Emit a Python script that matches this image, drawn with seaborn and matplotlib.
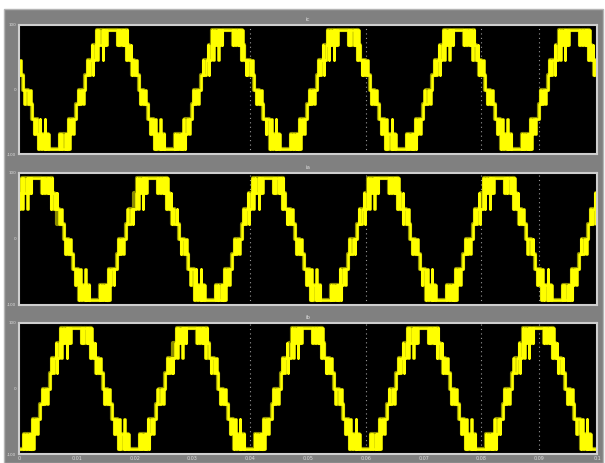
import numpy as np
import pandas as pd
import matplotlib
matplotlib.use("Agg")
import matplotlib.pyplot as plt
import seaborn as sns
from matplotlib.patches import Rectangle

sns.set_style("dark")

# ---------------- data ----------------
panel_titles = ["ic", "ia", "ib"]
first_peak_times = [0.0161, 0.0031, 0.0099]   # s, first positive peak in each panel
period = 0.02                                  # s (5 cycles in 0.1 s)
level_values = [-92, -69, -46, -23, 0, 23, 46, 69, 92]  # 9-level staircase
# half-width (fraction of period, around the positive peak) where level >= k, k = 4..-3
step_half_widths = [0.09, 0.145, 0.19, 0.23, 0.27, 0.31, 0.355, 0.41]
# how much PWM chatter each of those steps shows (0 none, 1 light, 2 heavy)
step_chatter = [2, 1, 1, 0, 1, 0, 1, 2]
# chatter pulses: (start, end, excursion in levels, minimum step_chatter), units of the window
chatter_window = 0.05                          # fraction of period
chatter_pulses = [(-0.55, -0.4, 1, 1), (0.35, 0.5, 1, 1),
                  (-0.95, -0.85, 1, 2), (0.15, 0.22, 2, 2), (0.75, 0.85, 1, 2)]
# darker chatter bursts (the olive blocks of the scope trace)
burst_pulses = [(-0.85, -0.45, 1, 2), (0.4, 0.75, 1, 2), (-0.35, -0.1, 1, 1)]
x_ticks = [0, 0.01, 0.02, 0.03, 0.04, 0.05, 0.06, 0.07, 0.08, 0.09, 0.1]
x_tick_labels = ["0", "0.01", "0.02", "0.03", "0.04", "0.05", "0.06", "0.07", "0.08", "0.09", "0.1"]
grid_marks = [0.04, 0.06, 0.08, 0.09]
y_ticks = [-100, 0, 100]
y_tick_labels = ["-100", "0", "100"]


def build_wave(peak, pulses):
    T = period
    w = chatter_window * T
    edges = []  # (time, delta)
    for c in range(-2, 8):
        p = peak + c * T
        for h, strength in zip(step_half_widths, step_chatter):
            for t_e, d in ((p - h * T, +1), (p + h * T, -1)):
                edges.append((t_e, d))
                for a, b, m, need in pulses:
                    if strength < need:
                        continue
                    if b <= 0:   # before edge: excursion towards the new level
                        edges.append((t_e + a * w, d * m))
                        edges.append((t_e + b * w, -d * m))
                    else:        # after edge: excursion back towards the old level
                        edges.append((t_e + a * w, -d * m))
                        edges.append((t_e + b * w, d * m))
    edges.sort(key=lambda e: e[0])
    t0 = peak - 2 * T - 0.5 * T
    raw = 0
    xs, ys = [t0], [level_values[0]]
    prev = 0
    for t_e, d in edges:
        if t_e < t0:
            continue
        raw += d
        new = min(max(raw, 0), len(level_values) - 1)
        xs += [t_e, t_e]
        ys += [level_values[prev], level_values[new]]
        prev = new
    return pd.DataFrame({"t": xs, "i": ys})


fig = plt.figure(figsize=(6.05, 4.63), dpi=100)
fig.patch.set_facecolor("white")
W, H = 605, 463
bg = fig.add_axes([0, 0, 1, 1], zorder=-10)
bg.set_xlim(0, W)
bg.set_ylim(H, 0)
bg.axis("off")
bg.add_patch(Rectangle((4, 9), 599, H - 9, facecolor="#808080", edgecolor="#b4b4b4", lw=1.0))

panel_px = [(25, 154), (173, 305), (323, 454)]
left, right = 19, 597
gray_txt = "#dcdcdc"

for k, (y0, y1) in enumerate(panel_px):
    ax = fig.add_axes([left / W, (H - y1) / H, (right - left) / W, (y1 - y0) / H])
    ax.set_facecolor("black")
    for g in grid_marks:
        ax.axvline(g, color="#9a9a9a", lw=0.8, ls=(0, (1, 3)), zorder=0)
    df_b = build_wave(first_peak_times[k], burst_pulses)
    sns.lineplot(data=df_b, x="t", y="i", sort=False, estimator=None, color="#8c8c00",
                 lw=3.0, ax=ax, legend=False)
    df = build_wave(first_peak_times[k], chatter_pulses)
    sns.lineplot(data=df, x="t", y="i", sort=False, estimator=None, color="#ffff00",
                 lw=1.8, ax=ax, legend=False)
    ax.set_xlim(0, 0.1)
    ax.set_ylim(-100, 100)
    ax.set_xlabel("")
    ax.set_ylabel("")
    for s in ax.spines.values():
        s.set_visible(True)
        s.set_color("#cfcfcf")
        s.set_linewidth(1.5)
    ax.set_yticks(y_ticks)
    ax.set_yticklabels(y_tick_labels, fontsize=3, color=gray_txt)
    ax.tick_params(axis="y", length=0, pad=2)
    ax.set_xticks(x_ticks)
    if k == 2:
        ax.set_xticklabels(x_tick_labels, fontsize=3.5, color=gray_txt)
    else:
        ax.set_xticklabels([])
    ax.tick_params(axis="x", length=2, color="#cfcfcf", pad=1.5, direction="in")
    ax.grid(False)
    ax.set_title(panel_titles[k], fontsize=4, color=gray_txt, pad=3)

fig.savefig("out.png", dpi=100, facecolor=fig.get_facecolor())
